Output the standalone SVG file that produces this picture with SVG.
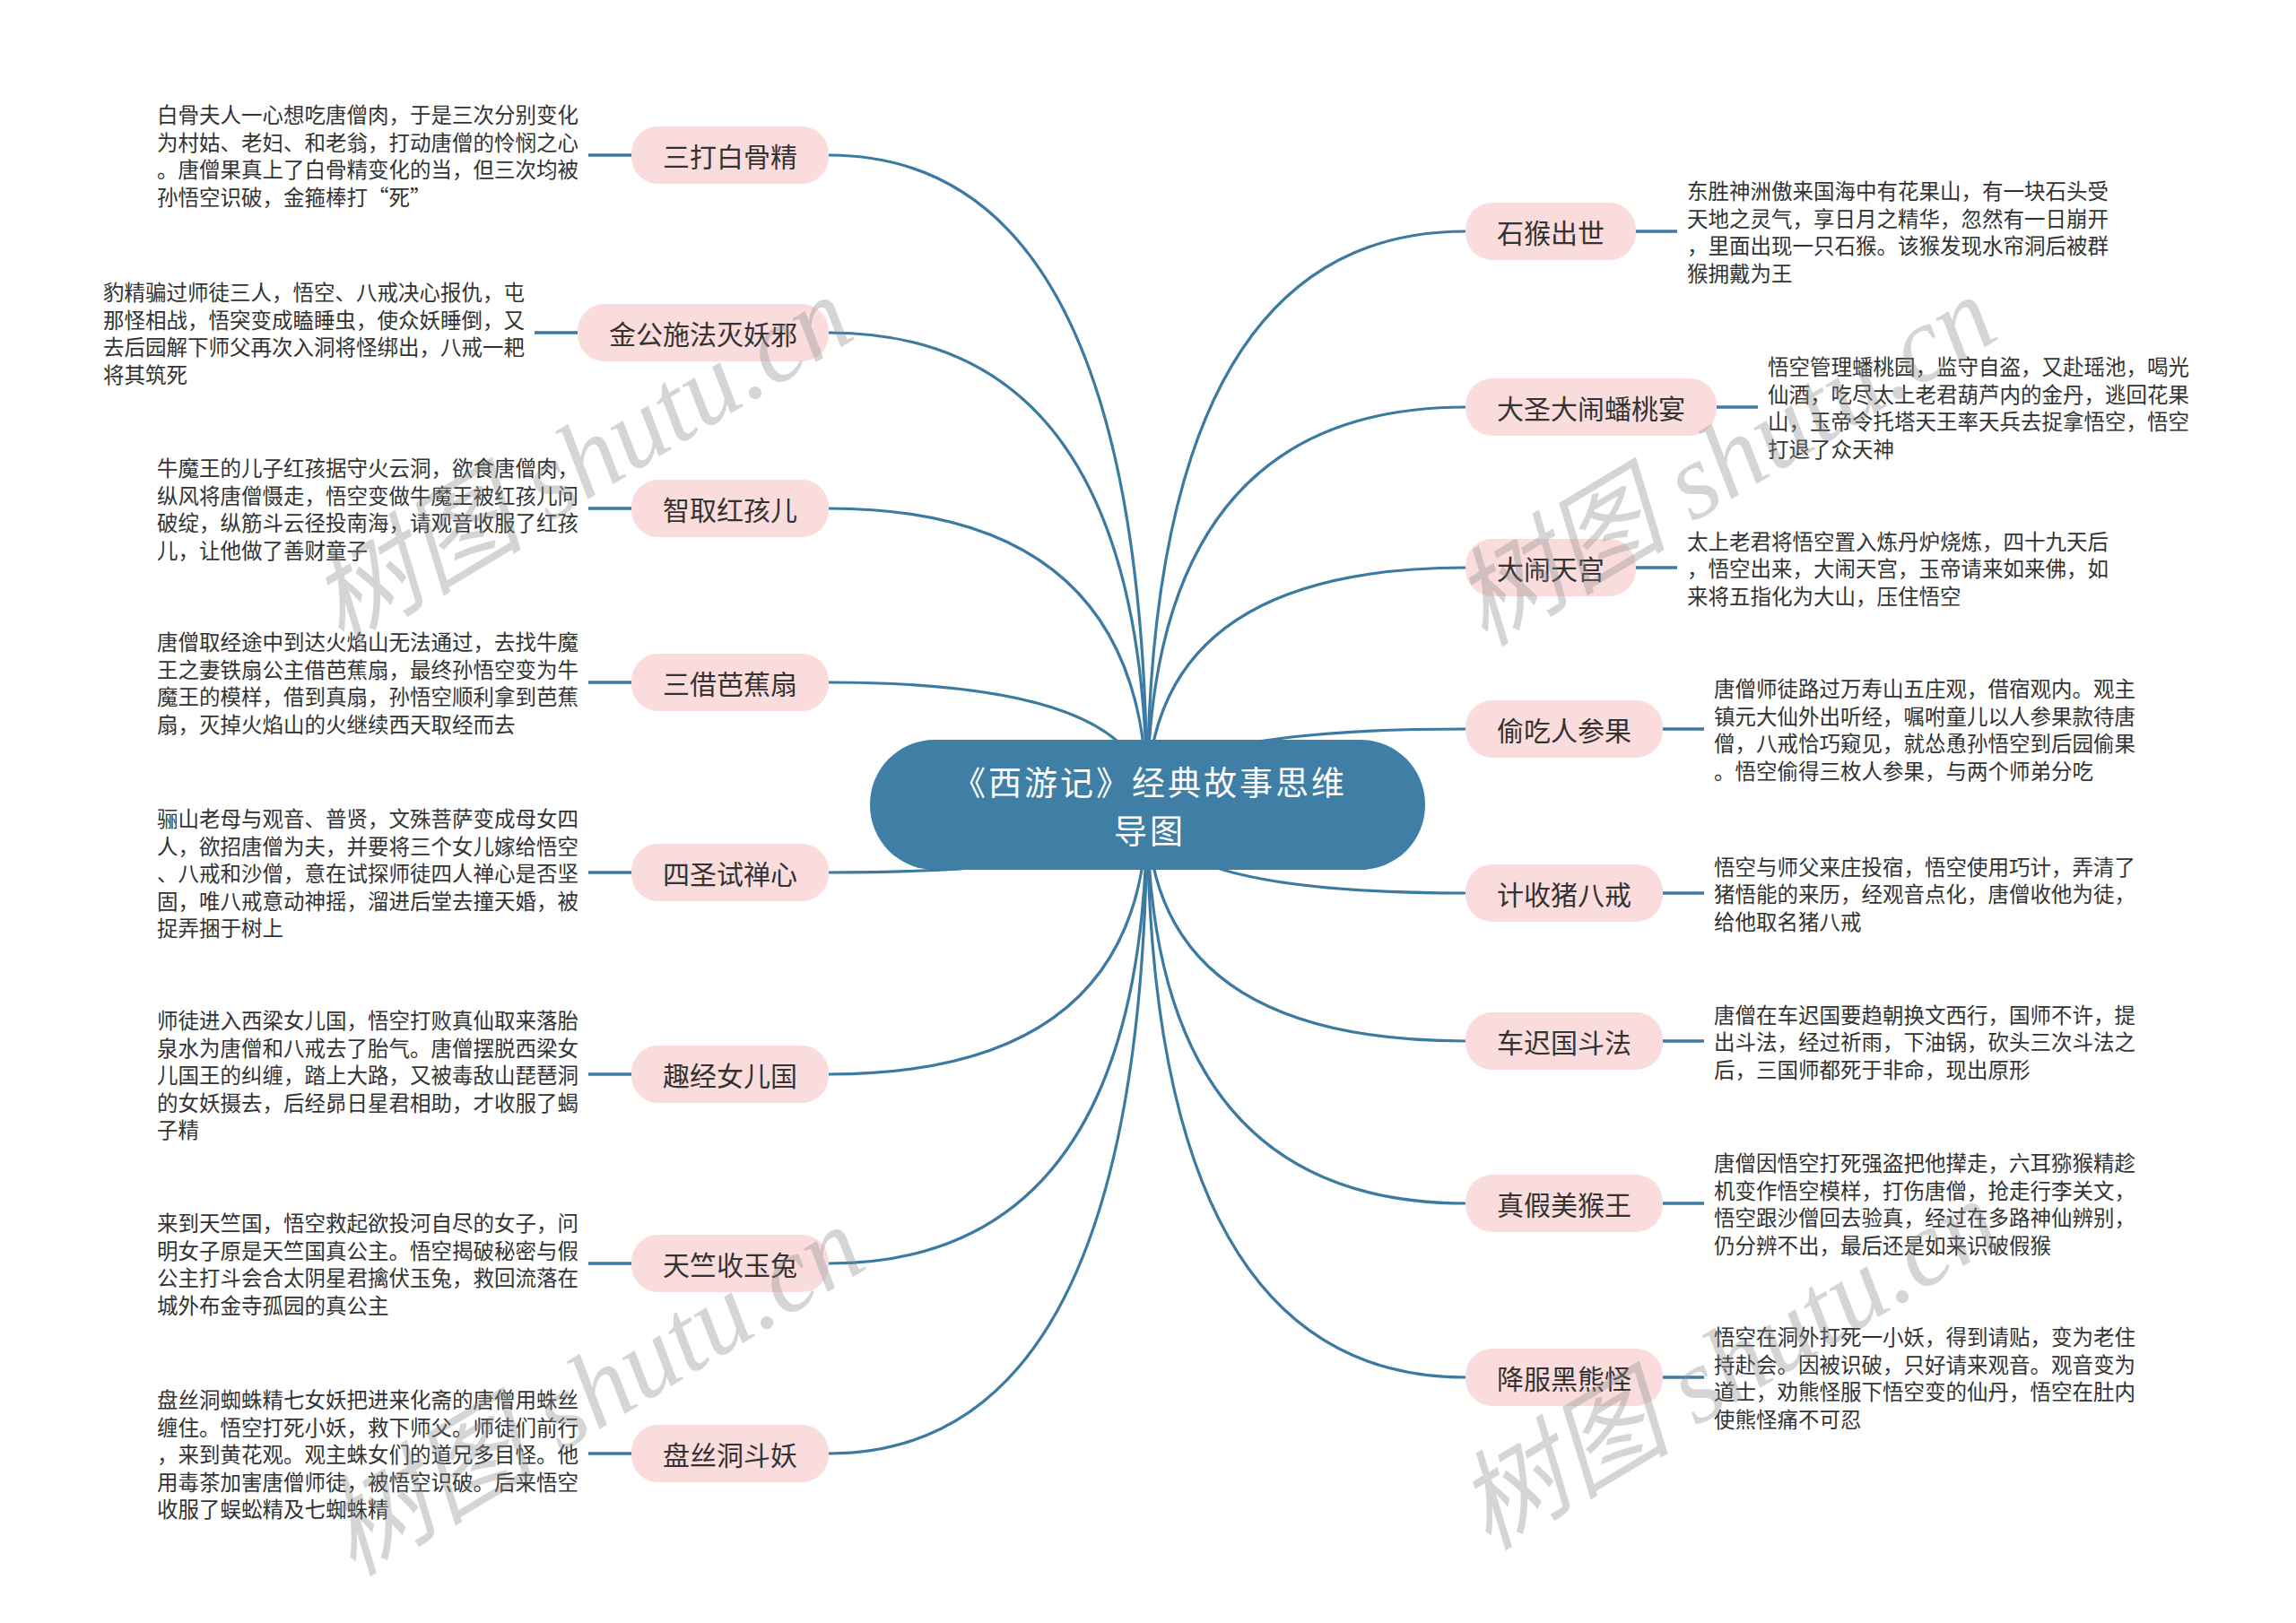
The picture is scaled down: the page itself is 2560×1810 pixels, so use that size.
<svg xmlns="http://www.w3.org/2000/svg" width="2560" height="1810" viewBox="0 0 2560 1810">
<style>
.bg{fill:#ffffff}
.lk{fill:none;stroke:#3d7aa2;stroke-width:3.2;stroke-linecap:round}
.sl{fill:none;stroke:#3d7aa2;stroke-width:3.6}
.nd{fill:#fadcdc}
.nt{font-family:"Noto Sans CJK SC","Noto Sans",sans-serif;font-size:30px;fill:#333333;text-anchor:middle;dominant-baseline:central}
.ds{font-family:"Noto Sans CJK SC","Noto Sans",sans-serif;font-size:23.5px;fill:#333333;dominant-baseline:central}
.ct{fill:#3f7fa6}
.ctt{font-family:"Noto Sans CJK SC","Noto Sans",sans-serif;font-size:37px;letter-spacing:3px;fill:#ffffff;text-anchor:middle;dominant-baseline:central}
.wm{font-family:"Liberation Serif","Noto Sans CJK SC",serif;font-style:italic;font-size:120px;fill:#8a8a8a;opacity:0.35;text-anchor:middle;dominant-baseline:central}
</style>
<rect class="bg" x="0" y="0" width="2560" height="1810"/>
<g id="connectors">
<path class="lk" d="M1279 897 Q1279 173 924 173"/>
<path class="lk" d="M1279 897 Q1279 371 924 371"/>
<path class="lk" d="M1279 897 Q1279 567 924 567"/>
<path class="lk" d="M1279 897 Q1279 761 924 761"/>
<path class="lk" d="M1279 897 Q1279 973 924 973"/>
<path class="lk" d="M1279 897 Q1279 1198 924 1198"/>
<path class="lk" d="M1279 897 Q1279 1409 924 1409"/>
<path class="lk" d="M1279 897 Q1279 1621 924 1621"/>
<path class="lk" d="M1279 897 Q1279 258 1634 258"/>
<path class="lk" d="M1279 897 Q1279 454 1634 454"/>
<path class="lk" d="M1279 897 Q1279 633 1634 633"/>
<path class="lk" d="M1279 897 Q1279 813 1634 813"/>
<path class="lk" d="M1279 897 Q1279 996 1634 996"/>
<path class="lk" d="M1279 897 Q1279 1161 1634 1161"/>
<path class="lk" d="M1279 897 Q1279 1342 1634 1342"/>
<path class="lk" d="M1279 897 Q1279 1536 1634 1536"/>
<path class="sl" d="M656 173 H704"/>
<path class="sl" d="M596 371 H644"/>
<path class="sl" d="M656 567 H704"/>
<path class="sl" d="M656 761 H704"/>
<path class="sl" d="M656 973 H704"/>
<path class="sl" d="M656 1198 H704"/>
<path class="sl" d="M656 1409 H704"/>
<path class="sl" d="M656 1621 H704"/>
<path class="sl" d="M1824 258 H1870"/>
<path class="sl" d="M1914 454 H1960"/>
<path class="sl" d="M1824 633 H1870"/>
<path class="sl" d="M1854 813 H1900"/>
<path class="sl" d="M1854 996 H1900"/>
<path class="sl" d="M1854 1161 H1900"/>
<path class="sl" d="M1854 1342 H1900"/>
<path class="sl" d="M1854 1536 H1900"/>
</g>
<g id="center">
<rect class="ct" x="970" y="825" width="619" height="145" rx="72"/>
<text class="ctt" x="1282" y="871"><tspan x="1282">《西游记》经典故事思维</tspan><tspan x="1282" dy="54">导图</tspan></text>
</g>
<g id="n-l1">
<rect class="nd" x="704" y="141" width="220" height="64" rx="30"/>
<text class="nt" x="814" y="173">三打白骨精</text>
<text class="ds" x="175" y="127.25"><tspan x="175">白骨夫人一心想吃唐僧肉，于是三次分别变化</tspan><tspan x="175" dy="30.5">为村姑、老妇、和老翁，打动唐僧的怜悯之心</tspan><tspan x="175" dy="30.5">。唐僧果真上了白骨精变化的当，但三次均被</tspan><tspan x="175" dy="30.5">孙悟空识破，金箍棒打“死”</tspan></text>
</g>
<g id="n-l2">
<rect class="nd" x="644" y="339" width="280" height="64" rx="30"/>
<text class="nt" x="784" y="371">金公施法灭妖邪</text>
<text class="ds" x="115" y="325.25"><tspan x="115">豹精骗过师徒三人，悟空、八戒决心报仇，屯</tspan><tspan x="115" dy="30.5">那怪相战，悟突变成瞌睡虫，使众妖睡倒，又</tspan><tspan x="115" dy="30.5">去后园解下师父再次入洞将怪绑出，八戒一耙</tspan><tspan x="115" dy="30.5">将其筑死</tspan></text>
</g>
<g id="n-l3">
<rect class="nd" x="704" y="535" width="220" height="64" rx="30"/>
<text class="nt" x="814" y="567">智取红孩儿</text>
<text class="ds" x="175" y="521.25"><tspan x="175">牛魔王的儿子红孩据守火云洞，欲食唐僧肉，</tspan><tspan x="175" dy="30.5">纵风将唐僧慑走，悟空变做牛魔王被红孩儿问</tspan><tspan x="175" dy="30.5">破绽，纵筋斗云径投南海，请观音收服了红孩</tspan><tspan x="175" dy="30.5">儿，让他做了善财童子</tspan></text>
</g>
<g id="n-l4">
<rect class="nd" x="704" y="729" width="220" height="64" rx="30"/>
<text class="nt" x="814" y="761">三借芭蕉扇</text>
<text class="ds" x="175" y="715.25"><tspan x="175">唐僧取经途中到达火焰山无法通过，去找牛魔</tspan><tspan x="175" dy="30.5">王之妻铁扇公主借芭蕉扇，最终孙悟空变为牛</tspan><tspan x="175" dy="30.5">魔王的模样，借到真扇，孙悟空顺利拿到芭蕉</tspan><tspan x="175" dy="30.5">扇，灭掉火焰山的火继续西天取经而去</tspan></text>
</g>
<g id="n-l5">
<rect class="nd" x="704" y="941" width="220" height="64" rx="30"/>
<text class="nt" x="814" y="973">四圣试禅心</text>
<text class="ds" x="175" y="912"><tspan x="175">骊山老母与观音、普贤，文殊菩萨变成母女四</tspan><tspan x="175" dy="30.5">人，欲招唐僧为夫，并要将三个女儿嫁给悟空</tspan><tspan x="175" dy="30.5">、八戒和沙僧，意在试探师徒四人禅心是否坚</tspan><tspan x="175" dy="30.5">固，唯八戒意动神摇，溜进后堂去撞天婚，被</tspan><tspan x="175" dy="30.5">捉弄捆于树上</tspan></text>
</g>
<g id="n-l6">
<rect class="nd" x="704" y="1166" width="220" height="64" rx="30"/>
<text class="nt" x="814" y="1198">趣经女儿国</text>
<text class="ds" x="175" y="1137"><tspan x="175">师徒进入西梁女儿国，悟空打败真仙取来落胎</tspan><tspan x="175" dy="30.5">泉水为唐僧和八戒去了胎气。唐僧摆脱西梁女</tspan><tspan x="175" dy="30.5">儿国王的纠缠，踏上大路，又被毒敌山琵琶洞</tspan><tspan x="175" dy="30.5">的女妖摄去，后经昴日星君相助，才收服了蝎</tspan><tspan x="175" dy="30.5">子精</tspan></text>
</g>
<g id="n-l7">
<rect class="nd" x="704" y="1377" width="220" height="64" rx="30"/>
<text class="nt" x="814" y="1409">天竺收玉兔</text>
<text class="ds" x="175" y="1363.25"><tspan x="175">来到天竺国，悟空救起欲投河自尽的女子，问</tspan><tspan x="175" dy="30.5">明女子原是天竺国真公主。悟空揭破秘密与假</tspan><tspan x="175" dy="30.5">公主打斗会合太阴星君擒伏玉兔，救回流落在</tspan><tspan x="175" dy="30.5">城外布金寺孤园的真公主</tspan></text>
</g>
<g id="n-l8">
<rect class="nd" x="704" y="1589" width="220" height="64" rx="30"/>
<text class="nt" x="814" y="1621">盘丝洞斗妖</text>
<text class="ds" x="175" y="1560"><tspan x="175">盘丝洞蜘蛛精七女妖把进来化斋的唐僧用蛛丝</tspan><tspan x="175" dy="30.5">缠住。悟空打死小妖，救下师父。师徒们前行</tspan><tspan x="175" dy="30.5">，来到黄花观。观主蛛女们的道兄多目怪。他</tspan><tspan x="175" dy="30.5">用毒茶加害唐僧师徒，被悟空识破。后来悟空</tspan><tspan x="175" dy="30.5">收服了蜈蚣精及七蜘蛛精</tspan></text>
</g>
<g id="n-r1">
<rect class="nd" x="1634" y="226" width="190" height="64" rx="30"/>
<text class="nt" x="1729" y="258">石猴出世</text>
<text class="ds" x="1881" y="212.25"><tspan x="1881">东胜神洲傲来国海中有花果山，有一块石头受</tspan><tspan x="1881" dy="30.5">天地之灵气，享日月之精华，忽然有一日崩开</tspan><tspan x="1881" dy="30.5">，里面出现一只石猴。该猴发现水帘洞后被群</tspan><tspan x="1881" dy="30.5">猴拥戴为王</tspan></text>
</g>
<g id="n-r2">
<rect class="nd" x="1634" y="422" width="280" height="64" rx="30"/>
<text class="nt" x="1774" y="454">大圣大闹蟠桃宴</text>
<text class="ds" x="1971" y="408.25"><tspan x="1971">悟空管理蟠桃园，监守自盗，又赴瑶池，喝光</tspan><tspan x="1971" dy="30.5">仙酒，吃尽太上老君葫芦内的金丹，逃回花果</tspan><tspan x="1971" dy="30.5">山，玉帝令托塔天王率天兵去捉拿悟空，悟空</tspan><tspan x="1971" dy="30.5">打退了众天神</tspan></text>
</g>
<g id="n-r3">
<rect class="nd" x="1634" y="601" width="190" height="64" rx="30"/>
<text class="nt" x="1729" y="633">大闹天宫</text>
<text class="ds" x="1881" y="602.5"><tspan x="1881">太上老君将悟空置入炼丹炉烧炼，四十九天后</tspan><tspan x="1881" dy="30.5">，悟空出来，大闹天宫，玉帝请来如来佛，如</tspan><tspan x="1881" dy="30.5">来将五指化为大山，压住悟空</tspan></text>
</g>
<g id="n-r4">
<rect class="nd" x="1634" y="781" width="220" height="64" rx="30"/>
<text class="nt" x="1744" y="813">偷吃人参果</text>
<text class="ds" x="1911" y="767.25"><tspan x="1911">唐僧师徒路过万寿山五庄观，借宿观内。观主</tspan><tspan x="1911" dy="30.5">镇元大仙外出听经，嘱咐童儿以人参果款待唐</tspan><tspan x="1911" dy="30.5">僧，八戒恰巧窥见，就怂恿孙悟空到后园偷果</tspan><tspan x="1911" dy="30.5">。悟空偷得三枚人参果，与两个师弟分吃</tspan></text>
</g>
<g id="n-r5">
<rect class="nd" x="1634" y="964" width="220" height="64" rx="30"/>
<text class="nt" x="1744" y="996">计收猪八戒</text>
<text class="ds" x="1911" y="965.5"><tspan x="1911">悟空与师父来庄投宿，悟空使用巧计，弄清了</tspan><tspan x="1911" dy="30.5">猪悟能的来历，经观音点化，唐僧收他为徒，</tspan><tspan x="1911" dy="30.5">给他取名猪八戒</tspan></text>
</g>
<g id="n-r6">
<rect class="nd" x="1634" y="1129" width="220" height="64" rx="30"/>
<text class="nt" x="1744" y="1161">车迟国斗法</text>
<text class="ds" x="1911" y="1130.5"><tspan x="1911">唐僧在车迟国要趋朝换文西行，国师不许，提</tspan><tspan x="1911" dy="30.5">出斗法，经过祈雨，下油锅，砍头三次斗法之</tspan><tspan x="1911" dy="30.5">后，三国师都死于非命，现出原形</tspan></text>
</g>
<g id="n-r7">
<rect class="nd" x="1634" y="1310" width="220" height="64" rx="30"/>
<text class="nt" x="1744" y="1342">真假美猴王</text>
<text class="ds" x="1911" y="1296.25"><tspan x="1911">唐僧因悟空打死强盗把他撵走，六耳猕猴精趁</tspan><tspan x="1911" dy="30.5">机变作悟空模样，打伤唐僧，抢走行李关文，</tspan><tspan x="1911" dy="30.5">悟空跟沙僧回去验真，经过在多路神仙辨别，</tspan><tspan x="1911" dy="30.5">仍分辨不出，最后还是如来识破假猴</tspan></text>
</g>
<g id="n-r8">
<rect class="nd" x="1634" y="1504" width="220" height="64" rx="30"/>
<text class="nt" x="1744" y="1536">降服黑熊怪</text>
<text class="ds" x="1911" y="1490.25"><tspan x="1911">悟空在洞外打死一小妖，得到请贴，变为老住</tspan><tspan x="1911" dy="30.5">持赴会。因被识破，只好请来观音。观音变为</tspan><tspan x="1911" dy="30.5">道士，劝熊怪服下悟空变的仙丹，悟空在肚内</tspan><tspan x="1911" dy="30.5">使熊怪痛不可忍</tspan></text>
</g>
<g id="watermarks">
<text class="wm" transform="translate(648 514) rotate(-31)">树图 shutu.cn</text>
<text class="wm" transform="translate(661 1551) rotate(-31)">树图 shutu.cn</text>
<text class="wm" transform="translate(1923 514) rotate(-31)">树图 shutu.cn</text>
<text class="wm" transform="translate(1927 1522) rotate(-31)">树图 shutu.cn</text>
</g>
</svg>
